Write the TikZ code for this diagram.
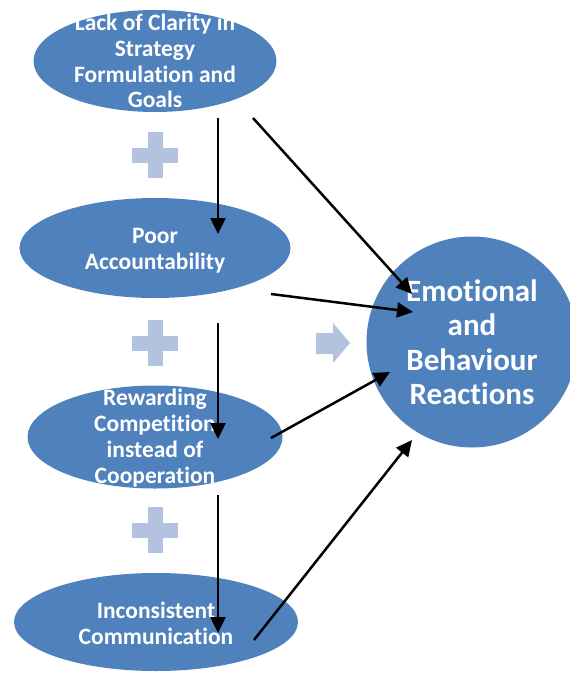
\documentclass[tikz,border=0pt]{standalone}
\usepackage{fontspec}
\setmainfont{Carlito}[Ligatures=NoCommon]
\usepackage{xcolor}
\usepackage{tikz}
\usetikzlibrary{shapes.geometric,arrows.meta}

\definecolor{ovalblue}{HTML}{4F81BD}
\definecolor{plusblue}{HTML}{B3C3DF}

\tikzset{
  cause/.style={ellipse, fill=ovalblue, inner sep=0pt},
  causetext/.style={text=white, font=\bfseries\fontsize{23.5}{25.8}\selectfont, align=center, inner sep=0pt},
  bigtext/.style={causetext, font=\bfseries\fontsize{31}{34.5}\selectfont},
  link/.style={-{Triangle[length=16pt,width=15pt]}, line width=2.5pt},
  plussign/.style={fill=plusblue},
}

\begin{document}
\begin{tikzpicture}[x=1pt,y=-1pt]
\useasboundingbox (0,0) rectangle (570,673);

% the four causes
\node[cause, minimum width=243pt, minimum height=102pt,
  label={[causetext]center:{Lack of Clarity in\\Strategy\\Formulation and\\Goals}}] (clarity) at (155,61) {};
\node[cause, minimum width=271pt, minimum height=100pt,
  label={[causetext, yshift=-3pt]center:{Poor\\Accountability}}] (poor) at (155,248) {};
\node[cause, minimum width=255pt, minimum height=103pt,
  label={[causetext, yshift=-1pt]center:{Rewarding\\Competition\\instead of\\Cooperation}}] (reward) at (155,437) {};
\node[cause, minimum width=284pt, minimum height=98pt,
  label={[causetext, yshift=-1.5pt]center:{Inconsistent\\Communication}}] (incons) at (156,622) {};

% the effect
\node[circle, fill=ovalblue, minimum size=211pt, inner sep=0pt,
  label={[bigtext]center:{Emotional\\and\\Behaviour\\Reactions}}] (reaction) at (472,342) {};

% plus signs and the block arrow
\foreach \y in {155,343,530} {
  \fill[plussign] (132,\y-7.5) rectangle (178,\y+7.5);
  \fill[plussign] (147.5,\y-23) rectangle (162.5,\y+23);
}
\fill[plussign] (316,333) -- (333,333) -- (333,323) -- (350,343)
  -- (333,363) -- (333,354) -- (316,354) -- cycle;

% end points of the arrows
\coordinate (clarity out) at (218,118);
\coordinate (clarity side) at (253,118);
\coordinate (poor in) at (218,234);
\coordinate (poor out) at (218,323);
\coordinate (poor side) at (271,294);
\coordinate (reward in) at (218,439);
\coordinate (reward out) at (218,495);
\coordinate (reward side) at (271,438);
\coordinate (incons in) at (218,633);
\coordinate (incons side) at (254,640);
\coordinate (reaction a) at (412,294);
\coordinate (reaction b) at (413,312);
\coordinate (reaction c) at (390,372);
\coordinate (reaction d) at (412,440);

\draw[link] (clarity out) -- (poor in);
\draw[link] (poor out) -- (reward in);
\draw[link] (reward out) -- (incons in);
\draw[link] (clarity side) -- (reaction a);
\draw[link] (poor side) -- (reaction b);
\draw[link] (reward side) -- (reaction c);
\draw[link] (incons side) -- (reaction d);
\end{tikzpicture}
\end{document}
